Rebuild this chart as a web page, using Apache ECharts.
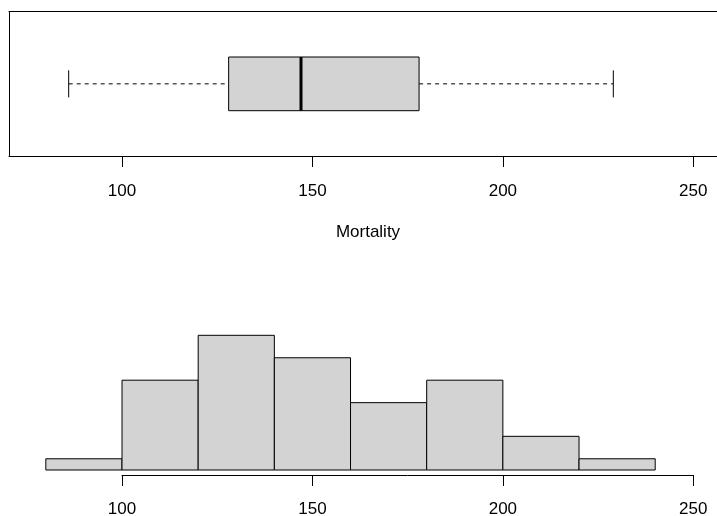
<!DOCTYPE html>
<html>
<head>
<meta charset="utf-8">
<script src="https://cdn.jsdelivr.net/npm/echarts@6/dist/echarts.min.js"></script>
<style>
html,body{margin:0;padding:0;background:#fff;}
#chart{width:717px;height:516px;}
</style>
</head>
<body>
<div id="chart"></div>
<script>
// ---- data ----
var axisName = 'Mortality';
var tickValues = [100, 150, 200, 250];
// boxplot five-number summary: low whisker, Q1, median, Q3, high whisker
var boxLow = [86];
var boxQ1 = [128];
var boxMedian = [147];
var boxQ3 = [178];
var boxHigh = [229];
// histogram
var binEdges = [80, 100, 120, 140, 160, 180, 200, 220, 240];
var binCounts = [1, 8, 12, 10, 6, 8, 3, 1];

// ---- build ----
var boxData = boxLow.map(function (v, i) {
  return [boxLow[i], boxQ1[i], boxMedian[i], boxQ3[i], boxHigh[i]];
});
var histData = binCounts.map(function (c, i) {
  return [binEdges[i], binEdges[i + 1], c];
});

var FONT = '"Liberation Sans", Arial, Helvetica, sans-serif';
var pxPerUnit = 571.3 / 150;
var topLeft = 9, topWidth = 708;
var topMin = 100 - (122 - topLeft) / pxPerUnit;
var topMax = topMin + topWidth / pxPerUnit;
var frameLine = {show: true, onZero: false, lineStyle: {color: '#000', width: 1}};
// histogram: gap of 5px between bar bases and the axis line
var histTop = 335.3, histBarsHeight = 134.7, histGap = 5;
var histYMax = 12;
var histYMin = -histGap * histYMax / histBarsHeight;

var chart = echarts.init(document.getElementById('chart'), null, {renderer: 'canvas'});
chart.setOption({
  animation: false,
  backgroundColor: '#ffffff',
  grid: [
    {left: topLeft, top: 11.7, width: topWidth, height: 144.3, outerBoundsMode: 'none', containLabel: false},
    {left: 122, top: histTop, width: 571.3, height: histBarsHeight + histGap, outerBoundsMode: 'none', containLabel: false}
  ],
  xAxis: [
    {
      type: 'value', gridIndex: 0, position: 'bottom', min: topMin, max: topMax,
      name: axisName, nameLocation: 'middle', nameGap: 68,
      nameTextStyle: {fontFamily: FONT, fontSize: 17, color: '#000', padding: [0, 0, 0, 10]},
      axisLine: frameLine,
      axisTick: {show: true, customValues: tickValues, length: 11, inside: false,
                 lineStyle: {color: '#000', width: 1}},
      axisLabel: {show: true, customValues: tickValues, margin: 27,
                  fontFamily: FONT, fontSize: 17, color: '#000'},
      splitLine: {show: false}
    },
    {
      type: 'value', gridIndex: 0, position: 'top', min: topMin, max: topMax,
      axisLine: frameLine, axisTick: {show: false}, axisLabel: {show: false},
      splitLine: {show: false}
    },
    {
      type: 'value', gridIndex: 1, position: 'bottom', min: 100, max: 250, interval: 50,
      axisLine: frameLine,
      axisTick: {show: true, length: 11, inside: false, lineStyle: {color: '#000', width: 1}},
      axisLabel: {show: true, margin: 26, fontFamily: FONT, fontSize: 17, color: '#000',
                  showMinLabel: true, showMaxLabel: true},
      splitLine: {show: false}
    }
  ],
  yAxis: [
    {type: 'value', gridIndex: 0, position: 'left', min: 0, max: 2,
     axisLine: frameLine, axisTick: {show: false}, axisLabel: {show: false},
     splitLine: {show: false}},
    {type: 'value', gridIndex: 1, min: histYMin, max: histYMax, show: false}
  ],
  series: [
    {
      type: 'custom', xAxisIndex: 0, yAxisIndex: 0, clip: false,
      data: boxData,
      renderItem: function (params, api) {
        var yc = 1;
        var pLow = api.coord([api.value(0), yc]);
        var pQ1 = api.coord([api.value(1), yc]);
        var pMed = api.coord([api.value(2), yc]);
        var pQ3 = api.coord([api.value(3), yc]);
        var pHigh = api.coord([api.value(4), yc]);
        var cy = pMed[1];
        var half = 26.85, staple = 13.5;
        var black = '#000';
        return {
          type: 'group',
          children: [
            {type: 'line', shape: {x1: pLow[0], y1: cy, x2: pQ1[0], y2: cy},
             style: {stroke: black, lineWidth: 1, lineDash: [4, 4]}},
            {type: 'line', shape: {x1: pQ3[0], y1: cy, x2: pHigh[0], y2: cy},
             style: {stroke: black, lineWidth: 1, lineDash: [4, 4]}},
            {type: 'line', shape: {x1: pLow[0], y1: cy - staple, x2: pLow[0], y2: cy + staple},
             style: {stroke: black, lineWidth: 1}},
            {type: 'line', shape: {x1: pHigh[0], y1: cy - staple, x2: pHigh[0], y2: cy + staple},
             style: {stroke: black, lineWidth: 1}},
            {type: 'rect', shape: {x: pQ1[0], y: cy - half, width: pQ3[0] - pQ1[0], height: 2 * half},
             style: {fill: '#d3d3d3', stroke: black, lineWidth: 1}},
            {type: 'line', shape: {x1: pMed[0], y1: cy - half, x2: pMed[0], y2: cy + half},
             style: {stroke: black, lineWidth: 3}}
          ]
        };
      }
    },
    {
      type: 'custom', xAxisIndex: 2, yAxisIndex: 1, clip: false,
      data: histData,
      renderItem: function (params, api) {
        var p0 = api.coord([api.value(0), api.value(2)]);
        var p1 = api.coord([api.value(1), 0]);
        return {
          type: 'rect',
          shape: {x: p0[0], y: p0[1], width: p1[0] - p0[0], height: p1[1] - p0[1]},
          style: {fill: '#d3d3d3', stroke: '#000', lineWidth: 1}
        };
      }
    }
  ]
});
</script>
</body>
</html>
